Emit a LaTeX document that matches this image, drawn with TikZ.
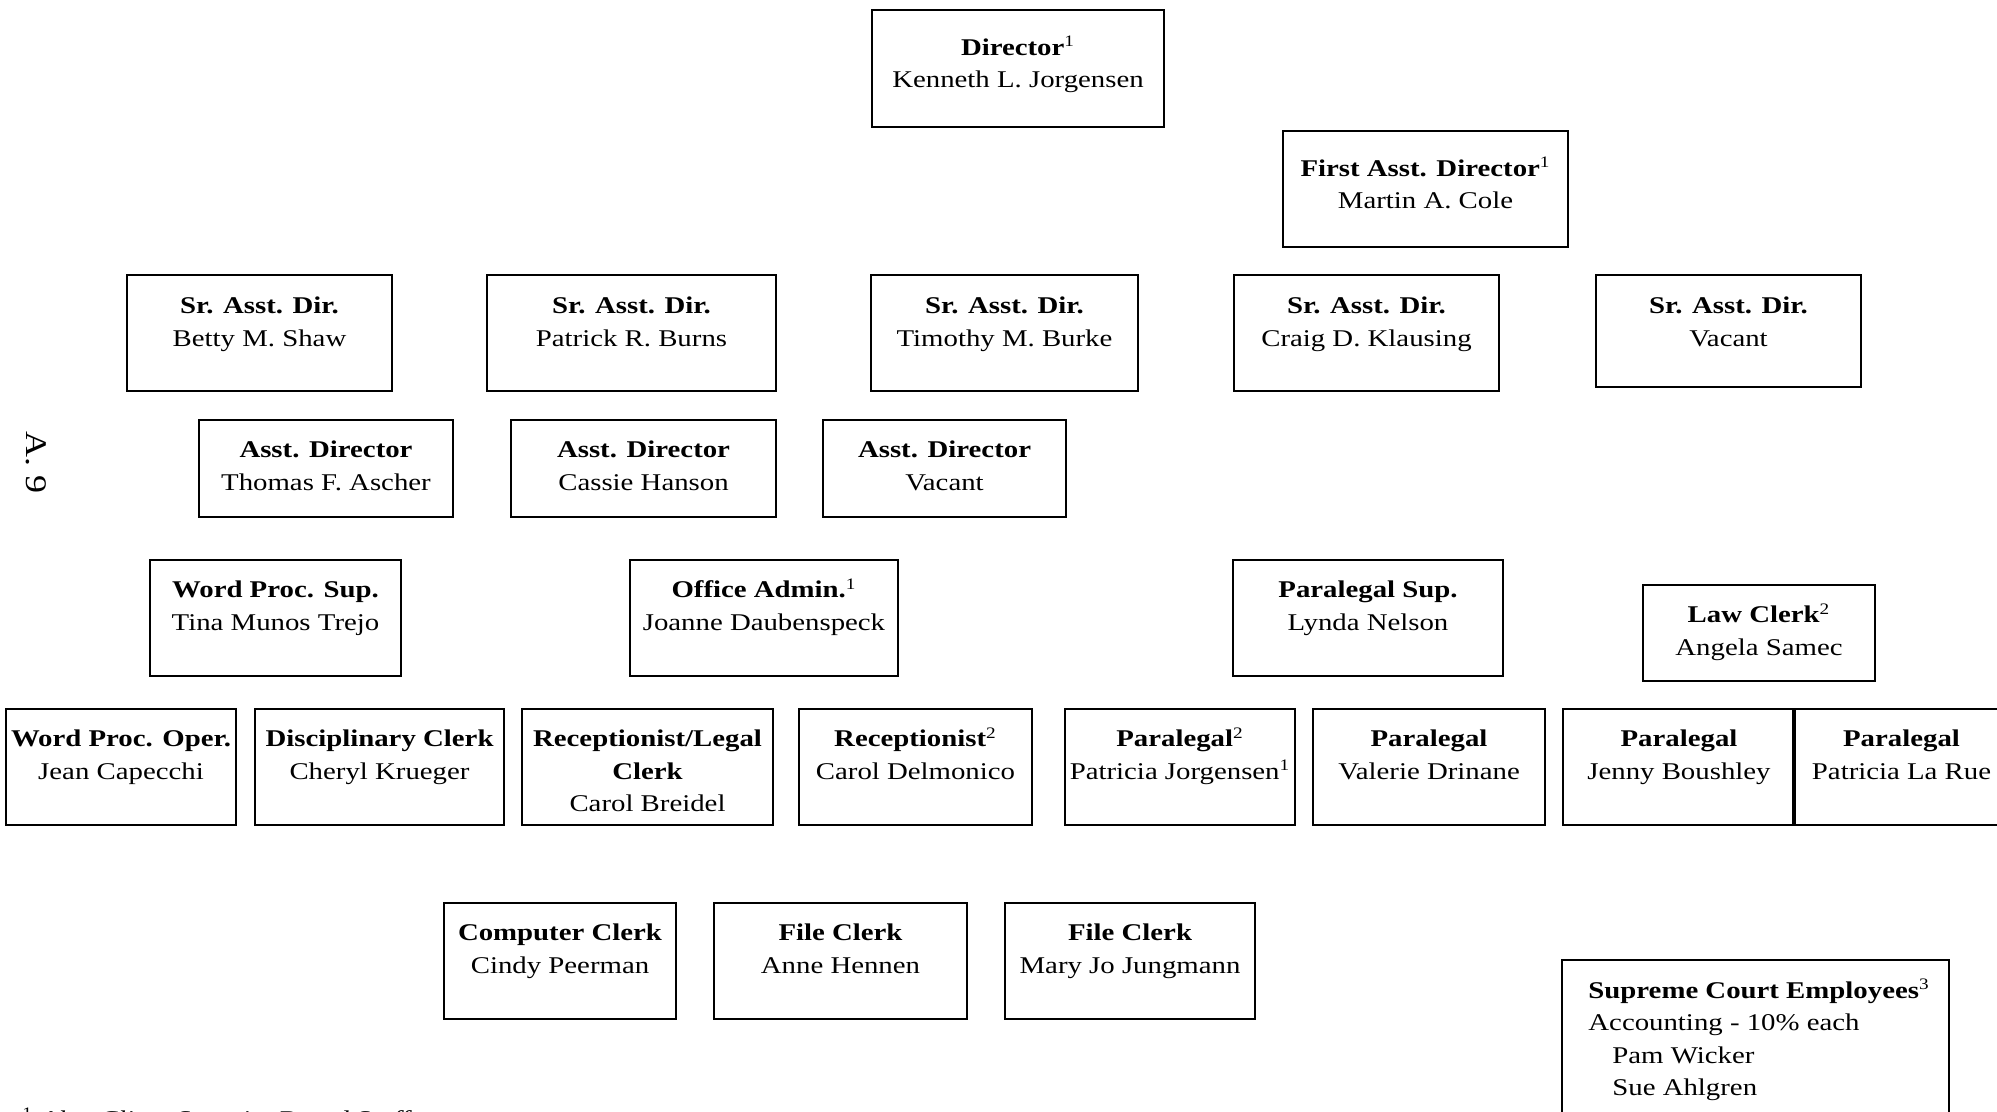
\documentclass[tikz,border=0pt]{standalone}
\usepackage{fontspec}
\setmainfont[FakeStretch=1.2]{Liberation Serif}
\tikzset{
  boxst/.style={draw=black, line width=1pt, inner sep=0pt, rectangle},
  txt/.style={align=center, inner sep=0pt, font=\fontsize{12}{16.25}\selectfont},
}
\newcommand\orgbox[7]{%
  \node[boxst, minimum width={(#4-#2)*0.5pt}, minimum height={(#5-#3)*0.5pt}] (#1) at ({(#2+#4)/2},{(#3+#5)/2}) {};
  \node[txt, anchor=north] (#1-t) at ({(#2+#4)/2},{#3+#6}) {\rule{0pt}{12pt}#7};
}
\begin{document}
\begin{tikzpicture}[x=0.5pt,y=-0.5pt]
\useasboundingbox (0,0) rectangle (1997,1112);
\fill[white] (0,0) rectangle (1997,1112);
\clip (0,0) rectangle (1997,1112);

\node[rotate=-90, inner sep=0pt, font=\fontsize{15}{18}\selectfont] (pg) at (36,463) {A. 9};

\orgbox{dir}{872}{10}{1164}{127}{21}{\textbf{Director}\textsuperscript{1}\\Kenneth L. Jorgensen}
\orgbox{fad}{1283}{131}{1568}{247}{21}{\textbf{First Asst. Director}\textsuperscript{1}\\Martin A. Cole}

\orgbox{s1}{127}{275}{392}{391}{14.5}{\textbf{Sr. Asst. Dir.}\\Betty M. Shaw}
\orgbox{s2}{487}{275}{776}{391}{14.5}{\textbf{Sr. Asst. Dir.}\\Patrick R. Burns}
\orgbox{s3}{871}{275}{1138}{391}{14.5}{\textbf{Sr. Asst. Dir.}\\Timothy M. Burke}
\orgbox{s4}{1234}{275}{1499}{391}{14.5}{\textbf{Sr. Asst. Dir.}\\Craig D. Klausing}
\orgbox{s5}{1596}{275}{1861}{387}{14.5}{\textbf{Sr. Asst. Dir.}\\Vacant}

\orgbox{a1}{199}{420}{453}{517}{13.5}{\textbf{Asst. Director}\\Thomas F. Ascher}
\orgbox{a2}{511}{420}{776}{517}{13.5}{\textbf{Asst. Director}\\Cassie Hanson}
\orgbox{a3}{823}{420}{1066}{517}{13.5}{\textbf{Asst. Director}\\Vacant}

\orgbox{wps}{150}{560}{401}{676}{13.5}{\textbf{Word Proc. Sup.}\\Tina Munos Trejo}
\orgbox{oa}{630}{560}{898}{676}{13.5}{\textbf{Office Admin.}\textsuperscript{1}\\Joanne Daubenspeck}
\orgbox{ps}{1233}{560}{1503}{676}{13.5}{\textbf{Paralegal Sup.}\\Lynda Nelson}
\orgbox{lc}{1643}{585}{1875}{681}{13.5}{\textbf{Law Clerk}\textsuperscript{2}\\Angela Samec}

\orgbox{wpo}{6}{709}{236}{825}{13.5}{\textbf{Word Proc. Oper.}\\Jean Capecchi}
\orgbox{dc}{255}{709}{504}{825}{13.5}{\textbf{Disciplinary Clerk}\\Cheryl Krueger}
\orgbox{rlc}{522}{709}{773}{825}{13.5}{\textbf{Receptionist/Legal}\\\textbf{Clerk}\\Carol Breidel}
\orgbox{rec}{799}{709}{1032}{825}{13.5}{\textbf{Receptionist}\textsuperscript{2}\\Carol Delmonico}
\orgbox{pj}{1065}{709}{1295}{825}{13.5}{\textbf{Paralegal}\textsuperscript{2}\\Patricia Jorgensen\textsuperscript{1}}
\orgbox{vd}{1313}{709}{1545}{825}{13.5}{\textbf{Paralegal}\\Valerie Drinane}
\orgbox{jb}{1563}{709}{1795}{825}{13.5}{\textbf{Paralegal}\\Jenny Boushley}
\orgbox{plr}{1793}{709}{2010}{825}{13.5}{\textbf{Paralegal}\\Patricia La Rue}

\orgbox{cc}{444}{903}{676}{1019}{13.5}{\textbf{Computer Clerk}\\Cindy Peerman}
\orgbox{fc1}{714}{903}{967}{1019}{13.5}{\textbf{File Clerk}\\Anne Hennen}
\orgbox{fc2}{1005}{903}{1255}{1019}{13.5}{\textbf{File Clerk}\\Mary Jo Jungmann}

\node[boxst, minimum width={(1949-1562)*0.5pt}, minimum height={(1140-960)*0.5pt}] (sc) at ({(1562+1949)/2},{(960+1140)/2}) {};
\node[txt, align=left, anchor=north west] (sc-t) at (1588,974)
  {\rule{0pt}{12pt}\textbf{Supreme Court Employees}\textsuperscript{3}\\Accounting - 10\% each\\\hspace*{12pt}Pam Wicker\\\hspace*{12pt}Sue Ahlgren};

\node[anchor=base west, inner sep=0pt, font=\fontsize{12}{14}\selectfont] (fn) at (22,1127)
  {\textsuperscript{1} \itshape Also Client Security Board Staff};
\end{tikzpicture}
\end{document}
